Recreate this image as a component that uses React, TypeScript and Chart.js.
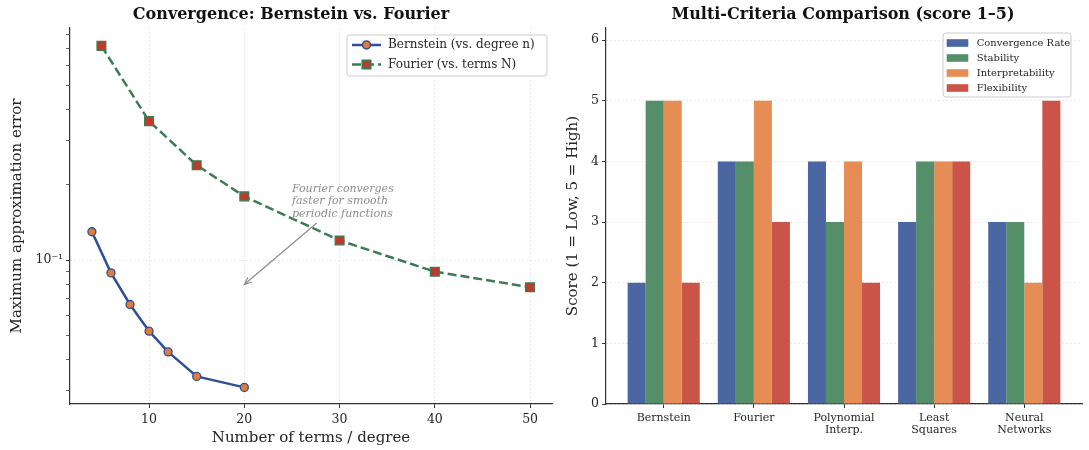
import React, { useEffect, useRef } from 'react';
import { Chart, registerables } from 'chart.js';

Chart.register(...registerables);

const FONT = '"DejaVu Serif", "Liberation Serif", serif';

// ---------- Left panel data ----------
const leftTitle = 'Convergence: Bernstein vs. Fourier';
const bernsteinDegrees = [4, 6, 8, 10, 12, 15, 20];
const bernsteinError = [0.13, 0.089, 0.0665, 0.052, 0.043, 0.0343, 0.031];
const fourierTerms = [5, 10, 15, 20, 30, 40, 50];
const fourierError = [0.72, 0.36, 0.24, 0.18, 0.12, 0.09, 0.078];
const seriesLabels = ['Bernstein (vs. degree n)', 'Fourier (vs. terms N)'];
const convergenceXTicks = [10, 20, 30, 40, 50];
const errorTicks = [0.03, 0.04, 0.05, 0.06, 0.07, 0.08, 0.09, 0.1, 0.2, 0.3, 0.4, 0.5, 0.6, 0.7, 0.8];
const errorMajorTick = 0.1;
const errorMajorLabel = '10⁻¹';
const leftXTitle = 'Number of terms / degree';
const leftYTitle = 'Maximum approximation error';
const annotationLines = ['Fourier converges', 'faster for smooth', 'periodic functions'];
const annotationText = { x: 25, y: 0.2 };
const annotationArrowFrom = { x: 27.6, y: 0.141 };
const annotationArrowTo = { x: 20, y: 0.08 };

// ---------- Right panel data ----------
const rightTitle = 'Multi-Criteria Comparison (score 1–5)';
const methods = [['Bernstein'], ['Fourier'], ['Polynomial', 'Interp.'], ['Least', 'Squares'], ['Neural', 'Networks']];
const criteria = ['Convergence Rate', 'Stability', 'Interpretability', 'Flexibility'];
const convergenceRate = [2, 4, 4, 3, 3];
const stability = [5, 4, 3, 4, 3];
const interpretability = [5, 5, 4, 4, 2];
const flexibility = [2, 3, 2, 4, 5];
const scoreTicks = [0, 1, 2, 3, 4, 5, 6];
const rightYTitle = 'Score (1 = Low, 5 = High)';

// ---------- Styles ----------
const LINE_BLUE = '#2d5096';
const LINE_GREEN = '#3a7d52';
const MARK_ORANGE = '#e07b39';
const MARK_RED = '#c0392b';
const BAR_COLORS = ['#4a67a1', '#558f69', '#e68d55', '#cb5449'];
const AXIS = '#333333';
const GRID = '#d9d9d9';
const TEXT = '#262626';

function drawArrow(ctx: CanvasRenderingContext2D, x1: number, y1: number, x2: number, y2: number) {
  const ang = Math.atan2(y2 - y1, x2 - x1);
  const head = 8;
  ctx.beginPath();
  ctx.moveTo(x1, y1);
  ctx.lineTo(x2, y2);
  ctx.moveTo(x2 - head * Math.cos(ang - 0.4), y2 - head * Math.sin(ang - 0.4));
  ctx.lineTo(x2, y2);
  ctx.lineTo(x2 - head * Math.cos(ang + 0.4), y2 - head * Math.sin(ang + 0.4));
  ctx.stroke();
}

function legendFrame(ctx: CanvasRenderingContext2D, x: number, y: number, w: number, h: number) {
  ctx.save();
  ctx.beginPath();
  const r = 3;
  ctx.moveTo(x + r, y);
  ctx.lineTo(x + w - r, y);
  ctx.arcTo(x + w, y, x + w, y + r, r);
  ctx.lineTo(x + w, y + h - r);
  ctx.arcTo(x + w, y + h, x + w - r, y + h, r);
  ctx.lineTo(x + r, y + h);
  ctx.arcTo(x, y + h, x, y + h - r, r);
  ctx.lineTo(x, y + r);
  ctx.arcTo(x, y, x + r, y, r);
  ctx.closePath();
  ctx.fillStyle = 'rgba(255,255,255,0.85)';
  ctx.fill();
  ctx.strokeStyle = '#cccccc';
  ctx.lineWidth = 1;
  ctx.stroke();
  ctx.restore();
}

const leftDecor = {
  id: 'leftDecor',
  afterDraw(chart: any) {
    const { ctx } = chart;
    const xs = chart.scales.x;
    const ys = chart.scales.y;
    ctx.save();
    // title
    ctx.fillStyle = '#111';
    ctx.font = `bold 16px ${FONT}`;
    ctx.textAlign = 'center';
    ctx.textBaseline = 'middle';
    ctx.fillText(leftTitle, 291, 15);

    // annotation
    ctx.fillStyle = '#8c8c8c';
    ctx.font = `italic 11px ${FONT}`;
    ctx.textAlign = 'left';
    const tx = xs.getPixelForValue(annotationText.x);
    const ty = ys.getPixelForValue(annotationText.y) + 4;
    annotationLines.forEach((line, i) => ctx.fillText(line, tx, ty + i * 12.4));
    ctx.strokeStyle = '#8c8c8c';
    ctx.lineWidth = 1.2;
    drawArrow(
      ctx,
      xs.getPixelForValue(annotationArrowFrom.x),
      ys.getPixelForValue(annotationArrowFrom.y),
      xs.getPixelForValue(annotationArrowTo.x),
      ys.getPixelForValue(annotationArrowTo.y)
    );

    // legend
    legendFrame(ctx, 347, 35, 200, 41);
    const rows = [45, 64.5];
    const colors = [LINE_BLUE, LINE_GREEN];
    const fills = [MARK_ORANGE, MARK_RED];
    rows.forEach((ry, i) => {
      ctx.save();
      ctx.strokeStyle = colors[i];
      ctx.lineWidth = 2.5;
      if (i === 1) ctx.setLineDash([9, 4]);
      ctx.beginPath();
      ctx.moveTo(352, ry);
      ctx.lineTo(381, ry);
      ctx.stroke();
      ctx.setLineDash([]);
      ctx.fillStyle = fills[i];
      ctx.lineWidth = 1.5;
      ctx.beginPath();
      if (i === 0) ctx.arc(366.5, ry, 4, 0, Math.PI * 2);
      else ctx.rect(366.5 - 4.3, ry - 4.3, 8.6, 8.6);
      ctx.fill();
      ctx.stroke();
      ctx.restore();
      ctx.fillStyle = TEXT;
      ctx.font = `12px ${FONT}`;
      ctx.textAlign = 'left';
      ctx.textBaseline = 'middle';
      ctx.fillText(seriesLabels[i], 388, ry);
    });
    ctx.restore();
  },
};

const rightDecor = {
  id: 'rightDecor',
  afterDraw(chart: any) {
    const { ctx } = chart;
    ctx.save();
    ctx.fillStyle = '#111';
    ctx.font = `bold 16px ${FONT}`;
    ctx.textAlign = 'center';
    ctx.textBaseline = 'middle';
    ctx.fillText(rightTitle, 283, 15);

    legendFrame(ctx, 383, 33, 128, 64);
    const rows = [43, 58, 73, 88];
    rows.forEach((ry, i) => {
      ctx.fillStyle = BAR_COLORS[i];
      ctx.fillRect(386.7, ry - 3.8, 21.6, 7.6);
      ctx.fillStyle = TEXT;
      ctx.font = `10px ${FONT}`;
      ctx.textAlign = 'left';
      ctx.textBaseline = 'middle';
      ctx.fillText(criteria[i], 416.7, ry);
    });
    ctx.restore();
  },
};

export default function App() {
  const leftRef = useRef<HTMLCanvasElement | null>(null);
  const rightRef = useRef<HTMLCanvasElement | null>(null);

  useEffect(() => {
    if (!leftRef.current || !rightRef.current) return;

    const left = new Chart(leftRef.current, {
      type: 'line',
      data: {
        datasets: [
          {
            label: seriesLabels[0],
            data: bernsteinDegrees.map((x, i) => ({ x, y: bernsteinError[i] })),
            borderColor: LINE_BLUE,
            borderWidth: 2.5,
            pointStyle: 'circle',
            pointRadius: 4,
            pointBackgroundColor: MARK_ORANGE,
            pointBorderColor: LINE_BLUE,
            pointBorderWidth: 1.3,
            tension: 0,
            fill: false,
          },
          {
            label: seriesLabels[1],
            data: fourierTerms.map((x, i) => ({ x, y: fourierError[i] })),
            borderColor: LINE_GREEN,
            borderWidth: 2.5,
            borderDash: [9, 4],
            pointStyle: 'rect',
            pointRadius: 6.2,
            pointBackgroundColor: MARK_RED,
            pointBorderColor: LINE_GREEN,
            pointBorderWidth: 1.3,
            tension: 0,
            fill: false,
          },
        ],
      },
      options: {
        animation: false,
        responsive: false,
        devicePixelRatio: 1,
        layout: { padding: { top: 28, right: 8, left: 0, bottom: 0 } },
        plugins: { legend: { display: false }, tooltip: { enabled: false }, title: { display: false } },
        scales: {
          x: {
            type: 'linear',
            min: 1.7,
            max: 52.3,
            afterBuildTicks: (s: any) => {
              s.ticks = convergenceXTicks.map((v) => ({ value: v }));
            },
            afterFit: (s: any) => {
              s.height = 46;
            },
            ticks: { font: { family: FONT, size: 12.5 }, color: TEXT, padding: 4, autoSkip: false, maxRotation: 0 },
            grid: { color: GRID, lineWidth: 0.8, tickColor: AXIS, tickLength: 4, tickWidth: 1 },
            border: { color: AXIS, width: 1.2, dash: [1.5, 2.5] },
            title: { display: true, text: leftXTitle, font: { family: FONT, size: 15 }, color: TEXT, padding: { top: 0, bottom: 3 } },
          },
          y: {
            type: 'logarithmic',
            min: 0.0266,
            max: 0.849,
            afterBuildTicks: (s: any) => {
              s.ticks = errorTicks.map((v) => ({ value: v, major: v === errorMajorTick }));
            },
            afterFit: (s: any) => {
              s.width = 70;
            },
            ticks: {
              font: { family: FONT, size: 12.5 },
              color: TEXT,
              padding: 3,
              autoSkip: false,
              callback: (v: any) => (Math.abs(Number(v) - errorMajorTick) < 1e-9 ? errorMajorLabel : ''),
            },
            grid: {
              color: (c: any) => (c.tick && Math.abs(c.tick.value - errorMajorTick) < 1e-9 ? GRID : 'rgba(0,0,0,0)'),
              lineWidth: 0.8,
              tickColor: AXIS,
              tickLength: 4,
              tickWidth: (c: any) => (c.tick && Math.abs(c.tick.value - errorMajorTick) < 1e-9 ? 1.1 : 0.8),
            },
            border: { color: AXIS, width: 1.2, dash: [1.5, 2.5] },
            title: { display: true, text: leftYTitle, font: { family: FONT, size: 15 }, color: TEXT, padding: { top: 8, bottom: 0 } },
          },
        },
      },
      plugins: [leftDecor],
    } as any);

    const seriesValues = [convergenceRate, stability, interpretability, flexibility];
    const right = new Chart(rightRef.current, {
      type: 'bar',
      data: {
        datasets: criteria.map((label, k) => ({
          label,
          data: seriesValues[k].map((y, i) => ({ x: i, y })),
          backgroundColor: BAR_COLORS[k],
          borderWidth: 0,
          categoryPercentage: 0.8,
          barPercentage: 1,
        })),
      },
      options: {
        animation: false,
        responsive: false,
        devicePixelRatio: 1,
        layout: { padding: { top: 28, right: 7, left: 0, bottom: 0 } },
        plugins: { legend: { display: false }, tooltip: { enabled: false }, title: { display: false } },
        scales: {
          x: {
            type: 'linear',
            offset: false,
            min: -0.64,
            max: 4.64,
            afterBuildTicks: (s: any) => {
              s.ticks = methods.map((_, i) => ({ value: i }));
            },
            afterFit: (s: any) => {
              s.height = 46;
            },
            ticks: {
              font: { family: FONT, size: 11, lineHeight: 1.1 },
              color: TEXT,
              padding: 4,
              autoSkip: false,
              maxRotation: 0,
              callback: (v: any) => methods[Math.round(Number(v))] || '',
            },
            grid: { offset: false, drawOnChartArea: false, tickColor: AXIS, tickLength: 4, tickWidth: 1 },
            border: { color: AXIS, width: 1.2 },
          },
          y: {
            type: 'linear',
            min: 0,
            max: 6.2,
            afterBuildTicks: (s: any) => {
              s.ticks = scoreTicks.map((v) => ({ value: v }));
            },
            afterFit: (s: any) => {
              s.width = 46;
            },
            ticks: { font: { family: FONT, size: 12.5 }, color: TEXT, padding: 3, autoSkip: false },
            grid: { color: GRID, lineWidth: 0.8, tickColor: AXIS, tickLength: 4, tickWidth: 1 },
            border: { color: AXIS, width: 1.2, dash: [1.5, 2.5] },
            title: { display: true, text: rightYTitle, font: { family: FONT, size: 15 }, color: TEXT, padding: { top: 4, bottom: 0 } },
          },
        },
      },
      plugins: [rightDecor],
    } as any);

    return () => {
      left.destroy();
      right.destroy();
    };
  }, []);

  return (
    <div style={{ position: 'fixed', left: 0, top: 0, width: 1089, height: 450, background: '#fff' }}>
      <canvas ref={leftRef} width={560} height={450} style={{ position: 'absolute', left: 0, top: 0, width: 560, height: 450 }} />
      <canvas ref={rightRef} width={529} height={450} style={{ position: 'absolute', left: 560, top: 0, width: 529, height: 450 }} />
    </div>
  );
}
